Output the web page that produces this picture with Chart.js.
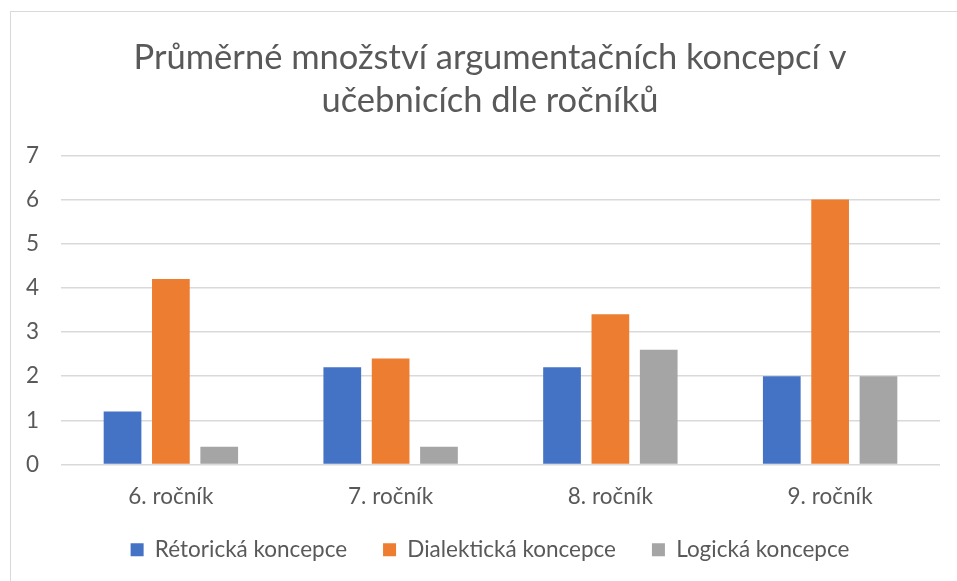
<!DOCTYPE html>
<html>
<head>
<meta charset="utf-8">
<script src="https://cdn.jsdelivr.net/npm/chart.js@4/dist/chart.umd.min.js"></script>
<style>
  html, body { margin: 0; padding: 0; background: #fff; }
  #wrap { position: absolute; left: 0; top: 0; width: 957px; height: 581px; }
  #frame { position: absolute; left: 10px; top: 11px; width: 960px; height: 600px; border: 1.5px solid #d9d9d9; box-sizing: border-box; }
</style>
</head>
<body>
<div id="frame"></div>
<div id="wrap"><canvas id="chart" width="957" height="581"></canvas></div>
<script>
const categories = ['6. ročník', '7. ročník', '8. ročník', '9. ročník'];
const seriesNames = ['Rétorická koncepce', 'Dialektická koncepce', 'Logická koncepce'];
const retoricka = [1.2, 2.2, 2.2, 2.0];
const dialekticka = [4.2, 2.4, 3.4, 6.0];
const logicka = [0.4, 0.4, 2.6, 2.0];
const yTicks = [0, 1, 2, 3, 4, 5, 6, 7];
const colors = ['#4472C4', '#ED7D31', '#A5A5A5'];

const fontFamily = 'Lato, "Open Sans", sans-serif';
const textColor = '#595959';

// title and legend are centred on the whole frame, not on the plot
const shiftBoxes = {
    id: 'shiftBoxes',
    afterLayout(chart) {
        chart.titleBlock.left += 40;
        chart.legend.left += 40;
        chart.legend.top -= 19;
        chart.legend.bottom -= 19;
    }
};

const ctx = document.getElementById('chart').getContext('2d');
new Chart(ctx, {
    type: 'bar',
    data: {
        labels: categories,
        datasets: [retoricka, dialekticka, logicka].map((values, i) => ({
            label: seriesNames[i],
            data: values,
            backgroundColor: colors[i],
            borderWidth: 0,
            categoryPercentage: 0.66,
            barPercentage: 0.78
        }))
    },
    plugins: [shiftBoxes],
    options: {
        responsive: false,
        animation: false,
        layout: { padding: { left: 0, right: 17, top: 14, bottom: -9 } },
        plugins: {
            title: {
                display: true,
                text: ['Průměrné množství argumentačních koncepcí v', 'učebnicích dle ročníků'],
                color: textColor,
                font: { family: fontFamily, size: 34.5, weight: 'normal', lineHeight: 1.25 },
                padding: { top: 22, bottom: 33 }
            },
            legend: {
                position: 'bottom',
                labels: {
                    color: textColor,
                    font: { family: fontFamily, size: 22.5 },
                    boxWidth: 13,
                    boxHeight: 13,
                    padding: 36
                }
            },
            tooltip: { enabled: false }
        },
        scales: {
            x: {
                grid: { display: false },
                border: { display: false },
                ticks: { color: textColor, font: { family: fontFamily, size: 22.5 }, padding: 11 }
            },
            y: {
                min: 0,
                max: 7,
                afterFit: scale => { scale.width = 61; },
                afterBuildTicks: scale => { scale.ticks = yTicks.map(v => ({ value: v })); },
                grid: { color: '#d9d9d9', lineWidth: 1.5, drawTicks: false },
                border: { display: false },
                ticks: { color: textColor, font: { family: fontFamily, size: 22.5 }, padding: 22 }
            }
        }
    }
});
</script>
</body>
</html>
